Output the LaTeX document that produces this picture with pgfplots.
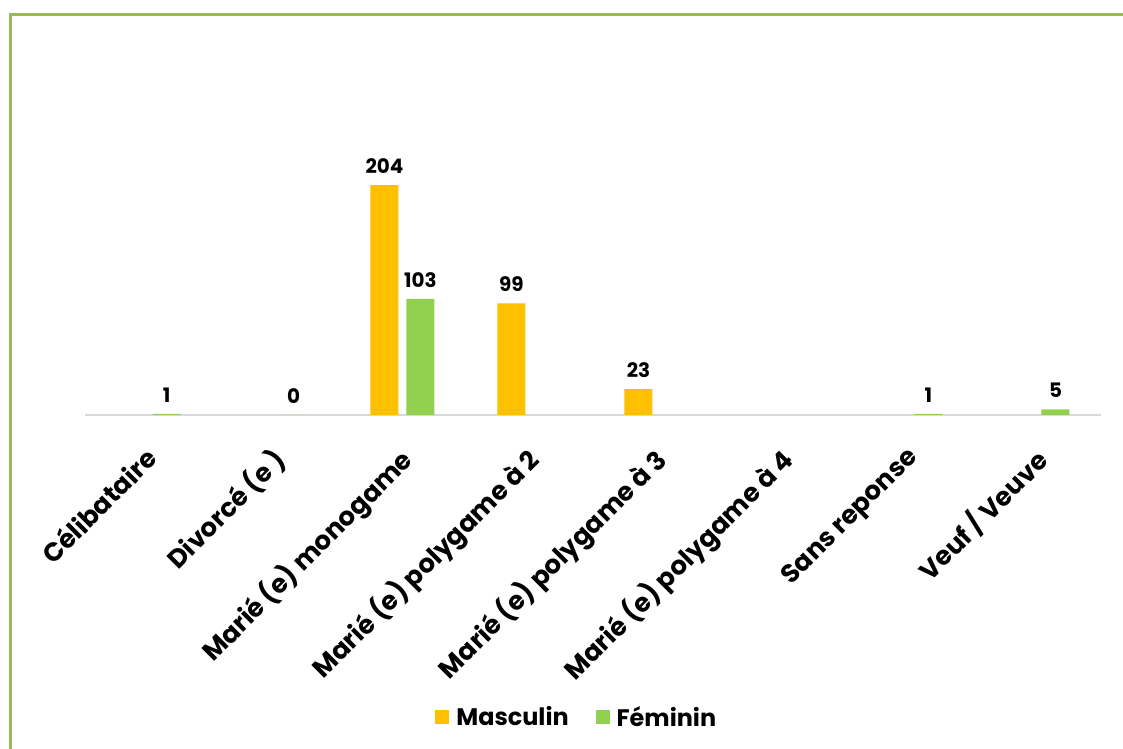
\documentclass[border=0pt]{standalone}
\usepackage{pgfplots}
\pgfplotsset{compat=1.18}
\usepackage{fontspec}
\setmainfont{Poppins}
\definecolor{masc}{HTML}{FFC000}
\definecolor{fem}{HTML}{92D050}
\definecolor{frame}{HTML}{9BBB59}
\definecolor{base}{HTML}{D9D9D9}
\begin{document}
\begin{tikzpicture}[x=1bp,y=1bp]
\clip (0,0) rectangle (1123,749);
\fill[white] (0,0) rectangle (1123,749);
\draw[frame,line width=3.5bp] (10.5,-20) -- (10.5,734.5) -- (1140,734.5);
\begin{axis}[
  at={(85bp,334bp)}, anchor=south west,
  scale only axis, width=1016bp, height=281.75bp,
  xmin=-0.5, xmax=7.5, ymin=0, ymax=250,
  axis x line*=bottom, axis y line=none,
  x axis line style={base, line width=1.5bp, -},
  xtick={0,...,7}, major tick length=0pt,
  xticklabels={C\'elibataire, Divorc\'e (e ), Mari\'e (e) monogame, Mari\'e (e) polygame \`a 2, Mari\'e (e) polygame \`a 3, Mari\'e (e) polygame \`a 4, Sans reponse, Veuf / Veuve},
  xticklabel style={xshift=-5bp, yshift=-30bp, rotate=45, anchor=north east, font=\fontsize{26}{28}\selectfont\bfseries, inner sep=0pt},
  ybar, bar width=28bp,
  nodes near coords,
  every node near coord/.append style={font=\fontsize{20}{22}\selectfont\bfseries, black, yshift=8bp, /pgf/number format/assume math mode=true},
  legend style={at={(0.484,-1.072)}, anchor=center, legend columns=2, draw=none, font=\fontsize{24}{26}\selectfont\bfseries,
    /tikz/every odd column/.append style={column sep=5bp},
    /tikz/every even column/.append style={column sep=25bp}},
  legend image code/.code={\fill[#1] (0bp,-7bp) rectangle (14bp,7bp);},
]
\addplot[draw=none, fill=masc, bar shift=-18bp] coordinates {(2,204) (3,99) (4,23)};
\addplot[draw=none, fill=fem, bar shift=18bp] coordinates {(0,1) (1,0) (2,103) (6,1) (7,5)};
\legend{Masculin, F\'eminin}
\end{axis}
\end{tikzpicture}
\end{document}
